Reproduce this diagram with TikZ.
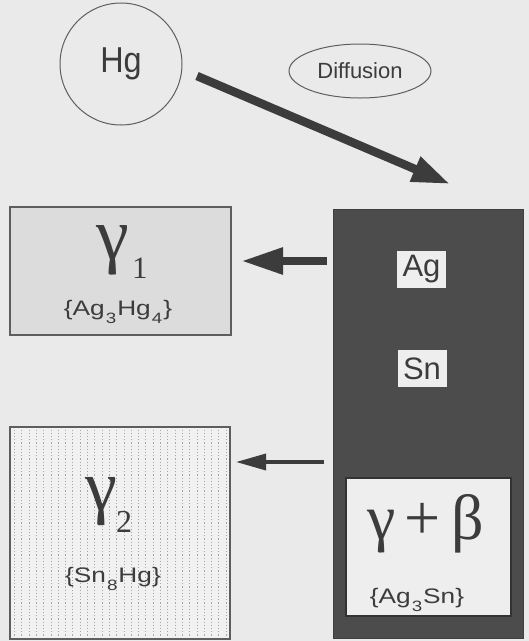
\documentclass[tikz,border=0pt]{standalone}
\usepackage{fontspec}
\setmainfont{Liberation Sans}
\newfontfamily\grk{Liberation Serif}
\newfontfamily\widesans[FakeStretch=1.25]{Liberation Sans}
\newfontfamily\narrowsans[FakeStretch=0.9]{Liberation Sans}
\usetikzlibrary{arrows.meta,shapes.geometric}
\definecolor{bg}{HTML}{EAEAEA}
\definecolor{ink}{HTML}{3C3C3C}
\definecolor{edge}{HTML}{5E5E5E}
\definecolor{gonefill}{HTML}{DCDCDC}
\definecolor{gtwofill}{HTML}{F1F1F1}
\definecolor{dots}{HTML}{A8A8A8}
\definecolor{darkfill}{HTML}{4C4C4C}
\definecolor{lightlab}{HTML}{EEEEEE}
\newcommand\chemsub[1]{\kern1pt\raisebox{-8pt}{\fontsize{15}{15}\selectfont #1}\kern1pt}
\begin{document}
\begin{tikzpicture}[x=1pt,y=-1pt,
  txt/.style={text=ink, inner sep=0pt},
  formula/.style={txt, font=\widesans\fontsize{21}{21}\selectfont},
  greekbig/.style={txt, font=\grk\fontsize{74}{74}\selectfont},
  greeksub/.style={txt, font=\grk\fontsize{31}{31}\selectfont},
  label/.style={txt, font=\fontsize{31}{31}\selectfont, fill=lightlab, minimum width=49pt, minimum height=37pt},
  phasebox/.style={draw=edge, line width=1.2pt, inner sep=0pt},
  heavyarrow/.style={draw=ink, line width=8.5pt, -{Triangle[length=38pt,width=25pt]}},
  lightarrow/.style={draw=ink, line width=3.5pt, -{Triangle[length=30pt,width=16pt]}}]
\fill[bg] (0,0) rectangle (529,641);
\useasboundingbox (0,0) rectangle (529,641);

% Hg and Diffusion
\node[circle, draw=edge, line width=1pt, minimum size=122pt, inner sep=0pt, text=ink,
      font=\narrowsans\fontsize{36}{36}\selectfont] (hg) at (121,64) {Hg};
\node[ellipse, draw=edge, line width=1pt, minimum width=142pt, minimum height=54pt, inner sep=0pt,
      text=ink, font=\fontsize{22}{22}\selectfont] (diff) at (360,71) {Diffusion};

% gamma 1 box
\node[phasebox, fill=gonefill, minimum width=221pt, minimum height=128pt] (g1) at (120.5,271) {};
\node[greekbig, anchor=base] (gam1) at (113,259) {γ};
\node[greeksub, anchor=base west] (sub1) at (132,278) {1};
\node[formula, anchor=base] (f1) at (118,315) {\{Ag\chemsub{3}Hg\chemsub{4}\}};

% gamma 2 box
\node[phasebox, fill=gtwofill, minimum width=220pt, minimum height=212pt] (g2) at (120,533) {};
\foreach \xx in {14.5,21.8,...,228}
  \draw[dots, line width=0.9pt, dash pattern=on 1.2pt off 2pt] (\xx,429.5) -- (\xx,637);
\node[greekbig, anchor=base, font=\grk\fontsize{72}{72}\selectfont] (gam2) at (101,510) {γ};
\node[greeksub, anchor=base west, font=\grk\fontsize{32}{32}\selectfont] (sub2) at (116,532) {2};
\node[formula, anchor=base] (f2) at (113,582) {\{Sn\chemsub{8}Hg\}};

% dark alloy block
\node[draw=black!75, fill=darkfill, line width=1pt, minimum width=190pt, minimum height=429pt, inner sep=0pt] (alloy) at (428,423.5) {};
\node[label] (ag) at (421.5,269.5) {Ag};
\node[label] (sn) at (422,368.5) {Sn};
\node[draw=black!80, fill=lightlab, line width=1.5pt, minimum width=165pt, minimum height=138pt, inner sep=0pt] (gb) at (428.5,547) {};
\node[txt, anchor=base, font=\grk\fontsize{64}{64}\selectfont] (gpb) at (426,539) {γ\kern9pt+\kern11ptβ};
\node[formula, anchor=base] (f3) at (417,603) {\{Ag\chemsub{3}Sn\}};

% arrows
\coordinate (bigs) at (197,76);
\coordinate (bige) at (450,184);
\draw[heavyarrow] (bigs) -- (bige);
\coordinate (a1s) at (327,261);
\coordinate (a1e) at (241,261);
\draw[heavyarrow, -{Triangle[length=42pt,width=25pt]}] (a1s) -- (a1e);
\coordinate (a2s) at (324,462);
\coordinate (a2e) at (236,462);
\draw[lightarrow] (a2s) -- (a2e);
\end{tikzpicture}
\end{document}
